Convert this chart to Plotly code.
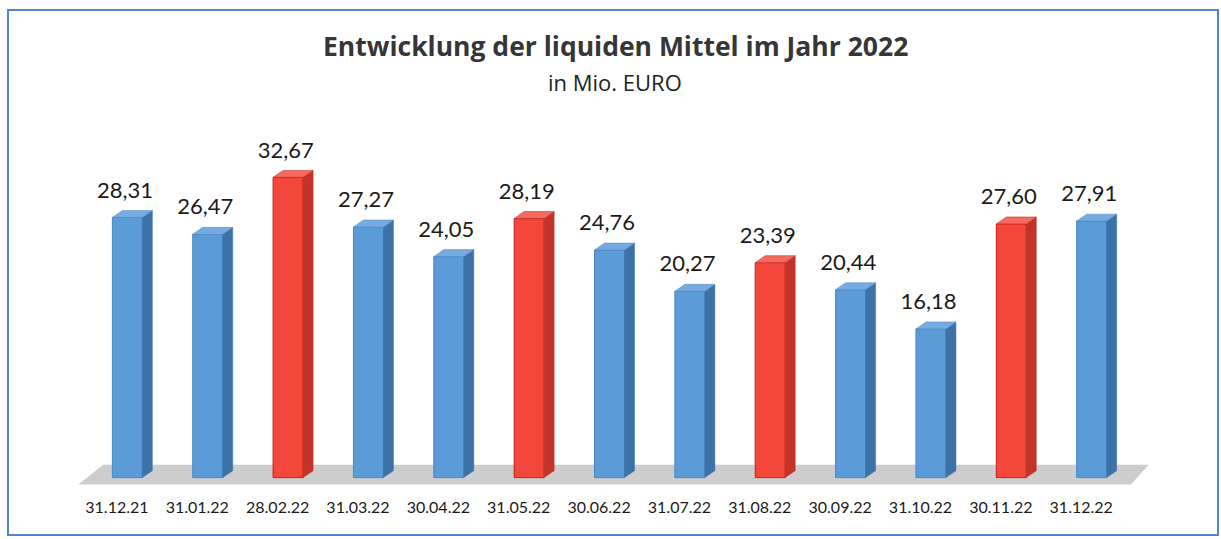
import plotly.graph_objects as go

dates = ["31.12.21", "31.01.22", "28.02.22", "31.03.22", "30.04.22", "31.05.22", "30.06.22",
         "31.07.22", "31.08.22", "30.09.22", "31.10.22", "30.11.22", "31.12.22"]
values = [28.31, 26.47, 32.67, 27.27, 24.05, 28.19, 24.76, 20.27, 23.39, 20.44, 16.18, 27.60, 27.91]
highlight = [False, False, True, False, False, True, False, False, True, False, False, True, False]

FONT = "Lato"
TFONT = "Open Sans"
BLUE = dict(front="#5b9bd8", side="#3d72a8", top="#75abe0", line="#4a86c4")
RED = dict(front="#f2473a", side="#c2342b", top="#f56a5e", line="#c42018")

W = 0.373   # front face width (x units)
DX = 0.125  # depth offset x
DY = 0.76   # depth offset y

xs = list(range(len(values)))
fig = go.Figure()

# floor (perspective plane)
n = len(values)
floor = (f"M {-0.61} {-0.76} L {n - 1 + 0.49} {-0.76} "
         f"L {n - 1 + 0.71} {1.4} L {-0.30} {1.4} Z")
fig.add_shape(type="path", path=floor, xref="x", yref="y", layer="below",
              fillcolor="#cdcdcd", line=dict(width=0))

# front faces
fig.add_trace(go.Bar(
    x=xs, y=values, width=W,
    marker=dict(color=[RED["front"] if h else BLUE["front"] for h in highlight],
                line=dict(color=[RED["line"] if h else BLUE["line"] for h in highlight], width=1)),
    hoverinfo="skip", showlegend=False))

# side and top faces
for x, v, h in zip(xs, values, highlight):
    c = RED if h else BLUE
    x0 = x - W / 2
    x1 = x + W / 2
    fig.add_trace(go.Scatter(
        x=[x1, x1 + DX, x1 + DX, x1, x1], y=[0, DY, v + DY, v, 0],
        mode="lines", fill="toself", fillcolor=c["side"],
        line=dict(color=c["side"], width=0.5), hoverinfo="skip", showlegend=False))
    fig.add_trace(go.Scatter(
        x=[x0, x1, x1 + DX, x0 + DX, x0], y=[v, v, v + DY, v + DY, v],
        mode="lines", fill="toself", fillcolor=c["top"],
        line=dict(color=c["line"], width=0.5), hoverinfo="skip", showlegend=False))

# value labels
fig.add_trace(go.Scatter(
    x=[x - 0.03 for x in xs], y=[v + DY + 2.0 for v in values],
    mode="text", text=[f"{v:.2f}".replace(".", ",") for v in values],
    textposition="middle center",
    textfont=dict(family=FONT, size=22, color="#1a1a1a"),
    hoverinfo="skip", showlegend=False))

fig.update_layout(
    width=1221, height=539,
    margin=dict(l=47, r=49, t=110, b=43),
    paper_bgcolor="white", plot_bgcolor="white",
    xaxis=dict(range=[-1, 13], tickmode="array",
               tickvals=[x - 0.13 for x in xs], ticktext=dates,
               showgrid=False, zeroline=False, showline=False, ticks="",
               tickfont=dict(family=FONT, size=16, color="#1a1a1a")),
    yaxis=dict(range=[-2, 40], showticklabels=False, showgrid=False,
               zeroline=False, showline=False),
    annotations=[
        dict(text="<b>Entwicklung der liquiden Mittel im Jahr 2022</b>",
             xref="paper", yref="paper", x=(615 - 47) / 1125, y=(496 - 46) / 386,
             xanchor="center", yanchor="middle", showarrow=False,
             font=dict(family=TFONT, size=26.5, color="#363636")),
        dict(text="in Mio. EURO",
             xref="paper", yref="paper", x=(615 - 47) / 1125, y=(496 - 82) / 386,
             xanchor="center", yanchor="middle", showarrow=False,
             font=dict(family=TFONT, size=22, color="#222222")),
    ],
)

# outer frame
fig.add_shape(type="rect", xref="paper", yref="paper",
              x0=(8 - 47) / 1125, x1=(1218 - 47) / 1125,
              y0=(496 - 535) / 386, y1=(496 - 10) / 386,
              line=dict(color="#4f86cf", width=2), fillcolor="rgba(0,0,0,0)")

fig.write_html("out.html", config={"displayModeBar": False},
               post_script="document.body.style.margin='0';document.body.style.overflow='hidden';")
